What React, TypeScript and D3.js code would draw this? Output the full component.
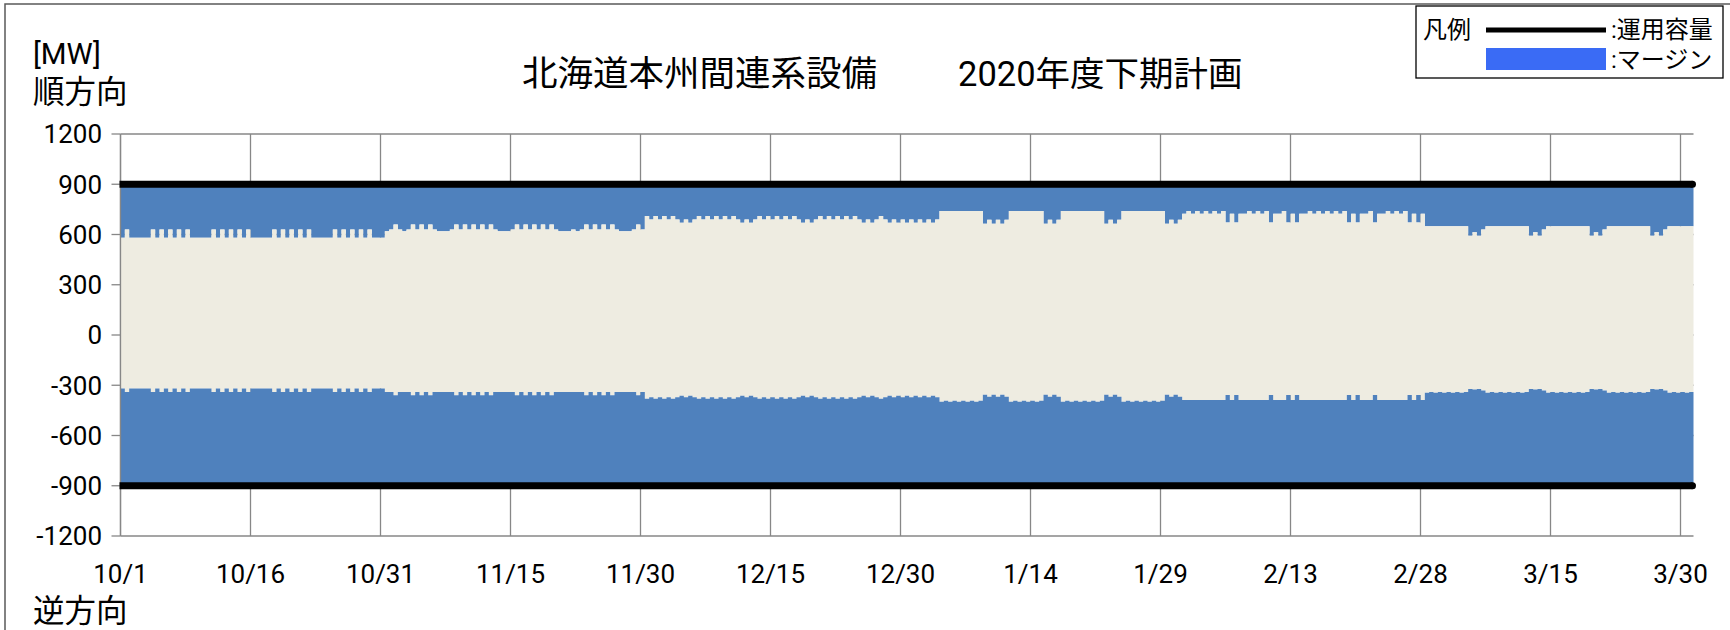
import React from "react";
import * as d3 from "d3";

const W = 1730;
const H = 630;

const titleLeft = "北海道本州間連系設備";
const titleRight = "2020年度下期計画";
const unitLabel = "[MW]";
const forwardLabel = "順方向";
const reverseLabel = "逆方向";
const legendTitle = "凡例";
const legendCapacity = ":運用容量";
const legendMargin = ":マージン";

const xTickLabels = ["10/1", "10/16", "10/31", "11/15", "11/30", "12/15", "12/30", "1/14", "1/29", "2/13", "2/28", "3/15", "3/30"];
const yTicks = [1200, 900, 600, 300, 0, -300, -600, -900, -1200];

const capacityForward = 900;
const capacityReverse = -900;

// Half-day slots starting 10/1 (day, night, day, night, ...). One row = one week starting Thursday.
const upperLimit = [
  580, 630, 580, 580, 580, 580, 580, 630, 580, 630, 580, 630, 580, 630,
  580, 630, 580, 580, 580, 580, 580, 630, 580, 630, 580, 630, 580, 630,
  580, 630, 580, 580, 580, 580, 580, 630, 580, 630, 580, 630, 580, 630,
  580, 630, 580, 580, 580, 580, 580, 630, 580, 630, 580, 630, 580, 630,
  580, 630, 580, 580, 580, 620, 630, 660, 630, 620, 630, 660, 630, 660,
  630, 660, 630, 620, 620, 620, 630, 660, 630, 660, 630, 660, 630, 660,
  630, 660, 630, 620, 620, 620, 630, 660, 630, 660, 630, 660, 630, 660,
  630, 660, 630, 620, 620, 620, 630, 620, 630, 660, 630, 660, 630, 660,
  630, 660, 630, 620, 620, 620, 630, 660, 630, 710, 690, 710, 690, 710,
  690, 710, 690, 670, 690, 670, 690, 710, 690, 710, 690, 710, 690, 710,
  690, 710, 690, 670, 690, 670, 690, 710, 690, 710, 690, 710, 690, 710,
  690, 710, 690, 670, 690, 670, 690, 710, 690, 710, 690, 710, 690, 710,
  690, 710, 690, 670, 690, 670, 690, 710, 690, 670, 690, 670, 690, 670,
  690, 670, 690, 670, 690, 670, 690, 740, 740, 740, 740, 740, 740, 740,
  740, 740, 740, 664, 688, 664, 688, 664, 688, 740, 740, 740, 740, 740,
  740, 740, 740, 664, 688, 664, 688, 740, 740, 740, 740, 740, 740, 740,
  740, 740, 740, 664, 688, 664, 688, 740, 740, 740, 740, 740, 740, 740,
  740, 740, 740, 664, 688, 664, 688, 724, 740, 724, 740, 724, 740, 724,
  740, 724, 740, 672, 724, 672, 724, 724, 740, 724, 740, 724, 740, 672,
  724, 724, 740, 672, 724, 672, 724, 724, 740, 724, 740, 724, 740, 724,
  740, 724, 740, 672, 724, 672, 724, 724, 740, 672, 724, 724, 740, 724,
  740, 724, 740, 672, 724, 672, 724, 650, 650, 650, 650, 650, 650, 650,
  650, 650, 650, 593, 614, 593, 630, 650, 650, 650, 650, 650, 650, 650,
  650, 650, 650, 593, 614, 593, 630, 650, 650, 650, 650, 650, 650, 650,
  650, 650, 650, 593, 614, 593, 630, 650, 650, 650, 650, 650, 650, 650,
  650, 650, 650, 593, 614, 593, 630, 650, 650, 650, 650, 650, 650,
];

const lowerLimit = [
  -320, -340, -320, -320, -320, -320, -320, -340, -320, -340, -320, -340, -320, -340,
  -320, -340, -320, -320, -320, -320, -320, -340, -320, -340, -320, -340, -320, -340,
  -320, -340, -320, -320, -320, -320, -320, -340, -320, -340, -320, -340, -320, -340,
  -320, -340, -320, -320, -320, -320, -320, -340, -320, -340, -320, -340, -320, -340,
  -320, -340, -320, -320, -320, -340, -340, -360, -340, -340, -340, -360, -340, -360,
  -340, -360, -340, -340, -340, -340, -340, -360, -340, -360, -340, -360, -340, -360,
  -340, -360, -340, -340, -340, -340, -340, -360, -340, -360, -340, -360, -340, -360,
  -340, -360, -340, -340, -340, -340, -340, -340, -340, -360, -340, -360, -340, -360,
  -340, -360, -340, -340, -340, -340, -340, -360, -340, -380, -372, -380, -372, -380,
  -372, -380, -372, -362, -372, -362, -372, -380, -372, -380, -372, -380, -372, -380,
  -372, -380, -372, -362, -372, -362, -372, -380, -372, -380, -372, -380, -372, -380,
  -372, -380, -372, -362, -372, -362, -372, -380, -372, -380, -372, -380, -372, -380,
  -372, -380, -372, -362, -372, -362, -372, -380, -372, -362, -372, -362, -372, -362,
  -372, -362, -372, -362, -372, -362, -372, -398, -392, -398, -392, -398, -392, -398,
  -392, -398, -392, -356, -368, -356, -368, -356, -368, -398, -392, -398, -392, -398,
  -392, -398, -392, -356, -368, -356, -368, -398, -392, -398, -392, -398, -392, -398,
  -392, -398, -392, -356, -368, -356, -368, -398, -392, -398, -392, -398, -392, -398,
  -392, -398, -392, -356, -368, -356, -368, -388, -388, -388, -388, -388, -388, -388,
  -388, -388, -388, -358, -388, -358, -388, -388, -388, -388, -388, -388, -388, -358,
  -388, -388, -388, -358, -388, -358, -388, -388, -388, -388, -388, -388, -388, -388,
  -388, -388, -388, -358, -388, -358, -388, -388, -388, -358, -388, -388, -388, -388,
  -388, -388, -388, -358, -388, -358, -388, -345, -340, -345, -340, -345, -340, -345,
  -340, -345, -340, -322, -326, -322, -332, -345, -340, -345, -340, -345, -340, -345,
  -340, -345, -340, -322, -326, -322, -332, -345, -340, -345, -340, -345, -340, -345,
  -340, -345, -340, -322, -326, -322, -332, -345, -340, -345, -340, -345, -340, -345,
  -340, -345, -340, -322, -326, -322, -332, -345, -340, -345, -340, -345, -340,
];

const BLUE = "#4F81BD";
const BEIGE = "#EEECE1";
const GRID = "#878787";
const FONT = "Roboto, 'Noto Sans CJK JP', sans-serif";

const START = Date.UTC(2020, 9, 1);
const HALF_DAY = 12 * 3600 * 1000;

function labelToDate(label: string): Date {
  const [m, d] = label.split("/").map(Number);
  const year = m >= 10 ? 2020 : 2021;
  return new Date(Date.UTC(year, m - 1, d));
}

type Pt = { t: Date; u: number; l: number };

export default function App() {
  const plotL = 120.5;
  const plotR = 1693.5;
  const plotT = 134;
  const plotB = 536;

  const x = d3
    .scaleUtc()
    .domain([new Date(START), new Date(START + upperLimit.length * HALF_DAY)])
    .range([plotL, plotR]);
  const y = d3.scaleLinear().domain([-1200, 1200]).range([plotB, plotT]);

  const pts: Pt[] = upperLimit.map((u, i) => ({ t: new Date(START + i * HALF_DAY), u, l: lowerLimit[i] }));
  const last = pts[pts.length - 1];
  pts.push({ t: new Date(START + pts.length * HALF_DAY), u: last.u, l: last.l });

  const topMargin = d3
    .area<Pt>()
    .x((d) => x(d.t))
    .y0(y(capacityForward))
    .y1((d) => y(d.u))
    .curve(d3.curveStepAfter);
  const middle = d3
    .area<Pt>()
    .x((d) => x(d.t))
    .y0((d) => y(d.l))
    .y1((d) => y(d.u))
    .curve(d3.curveStepAfter);
  const bottomMargin = d3
    .area<Pt>()
    .x((d) => x(d.t))
    .y0(y(capacityReverse))
    .y1((d) => y(d.l))
    .curve(d3.curveStepAfter);

  const xTicks = xTickLabels.map((lab) => ({ lab, t: labelToDate(lab) }));

  return (
    <svg
      width={W}
      height={H}
      style={{ position: "absolute", left: 0, top: 0, display: "block", background: "#fff" }}
      fontFamily={FONT}
    >
      <rect x={0} y={0} width={W} height={H} fill="#fff" />
      <rect x={5} y={4} width={W} height={H + 20} fill="none" stroke="#5a5a5a" strokeWidth={1.5} />

      {/* gridlines */}
      {yTicks.map((v) => (
        <line key={"h" + v} x1={plotL} x2={plotR} y1={y(v)} y2={y(v)} stroke={GRID} strokeWidth={1.3} />
      ))}
      {xTicks.map((d) => (
        <line key={"v" + d.lab} x1={x(d.t)} x2={x(d.t)} y1={plotT} y2={plotB} stroke={GRID} strokeWidth={1.3} />
      ))}
      {yTicks.map((v) => (
        <line key={"tk" + v} x1={plotL - 9} x2={plotL} y1={y(v)} y2={y(v)} stroke={GRID} strokeWidth={1.3} />
      ))}

      {/* areas */}
      <path d={topMargin(pts) ?? ""} fill={BLUE} />
      <path d={middle(pts) ?? ""} fill={BEIGE} />
      <path d={bottomMargin(pts) ?? ""} fill={BLUE} />

      {/* y axis line */}
      <line x1={plotL} x2={plotL} y1={plotT} y2={plotB} stroke={GRID} strokeWidth={1.3} />

      {/* capacity lines */}
      {[capacityForward, capacityReverse].map((v) => (
        <g key={"cap" + v}>
          <line x1={plotL - 1} x2={plotR - 1} y1={y(v)} y2={y(v)} stroke="#000" strokeWidth={7} />
          <circle cx={plotR - 1} cy={y(v)} r={3.5} fill="#000" />
        </g>
      ))}

      {/* y tick labels */}
      {yTicks.map((v) => (
        <text key={"yl" + v} x={102} y={y(v)} dy="0.36em" textAnchor="end" fontSize={26} fill="#000">
          {v}
        </text>
      ))}
      {/* x tick labels */}
      {xTicks.map((d) => (
        <text key={"xl" + d.lab} x={x(d.t)} y={583} textAnchor="middle" fontSize={26} fill="#000">
          {d.lab}
        </text>
      ))}

      {/* axis titles */}
      <text x={33} y={64} fontSize={29.5} fill="#000">{unitLabel}</text>
      <text x={33} y={103} fontSize={31.5} fill="#000">{forwardLabel}</text>
      <text x={33} y={622} fontSize={31.5} fill="#000">{reverseLabel}</text>

      {/* title */}
      <text x={877} y={86} textAnchor="end" fontSize={35.5} fill="#000">{titleLeft}</text>
      <text x={958} y={86} textAnchor="start" fontSize={34.5} fill="#000">{titleRight}</text>

      {/* legend */}
      <rect x={1416} y={6} width={307} height={72} fill="#fff" stroke="#000" strokeWidth={1.3} />
      <text x={1423} y={38} fontSize={24} fill="#000">{legendTitle}</text>
      <line x1={1486} x2={1606} y1={30} y2={30} stroke="#000" strokeWidth={5} />
      <text x={1611} y={38} fontSize={24} fill="#000">{legendCapacity}</text>
      <rect x={1486} y={48} width={120} height={22} fill="#3A6BF5" />
      <text x={1611} y={68} fontSize={24} fill="#000">{legendMargin}</text>
    </svg>
  );
}
